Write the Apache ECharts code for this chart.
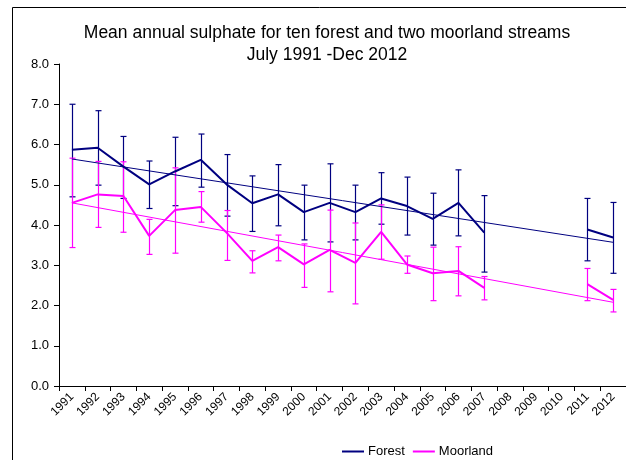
<!DOCTYPE html>
<html>
<head>
<meta charset="utf-8">
<script src="https://cdn.jsdelivr.net/npm/echarts@6/dist/echarts.min.js"></script>
<style>
  html, body { margin: 0; padding: 0; background: #fff; }
  #chart { width: 626px; height: 460px; }
</style>
</head>
<body>
<div id="chart"></div>
<script>
const years = ['1991', '1992', '1993', '1994', '1995', '1996', '1997', '1998', '1999', '2000', '2001',
  '2002', '2003', '2004', '2005', '2006', '2007', '2008', '2009', '2010', '2011', '2012'];

const forestMean = [5.87, 5.92, 5.45, 5.01, 5.33, 5.62, 5.01, 4.54, 4.76, 4.32, 4.55,
  4.32, 4.66, 4.47, 4.15, 4.55, 3.81, null, null, null, 3.89, 3.69];
const forestHigh = [7.00, 6.84, 6.20, 5.59, 6.18, 6.26, 5.75, 5.22, 5.50, 4.99, 5.52,
  4.99, 5.30, 5.19, 4.79, 5.37, 4.73, null, null, null, 4.66, 4.56];
const forestLow = [4.70, 4.99, 4.66, 4.41, 4.48, 4.94, 4.22, 3.84, 3.98, 3.63, 3.58,
  3.63, 4.02, 3.75, 3.50, 3.73, 2.83, null, null, null, 3.11, 2.80];

const moorMean = [4.55, 4.76, 4.72, 3.73, 4.37, 4.45, 3.81, 3.11, 3.45, 3.02, 3.38,
  3.06, 3.83, 3.02, 2.80, 2.86, 2.44, null, null, null, 2.53, 2.14];
const moorHigh = [5.66, 5.58, 5.57, 4.14, 5.42, 4.83, 4.36, 3.36, 3.75, 3.53, 4.37,
  4.05, 4.50, 3.23, 3.45, 3.46, 2.72, null, null, null, 2.92, 2.40];
const moorLow = [3.44, 3.94, 3.82, 3.27, 3.30, 4.07, 3.12, 2.81, 3.11, 2.45, 2.34,
  2.04, 3.15, 2.80, 2.12, 2.24, 2.14, null, null, null, 2.12, 1.84];

// trend line end points (first and last year)
const trendYears = ['1991', '2012'];
const forestTrend = [5.64, 3.57];
const moorTrend = [4.55, 2.08];

const yTicks = [0, 1, 2, 3, 4, 5, 6, 7, 8];

const FOREST = '#000080';
const MOOR = '#ff00ff';

const errData = (low, high) => years
  .map((y, i) => [i, low[i], high[i]])
  .filter(d => d[1] != null);

const errorBars = (color) => (params, api) => {
  const lo = api.coord([api.value(0), api.value(1)]);
  const hi = api.coord([api.value(0), api.value(2)]);
  const x = Math.round(lo[0]) + 0.5;
  const cap = 3;
  const style = { stroke: color, lineWidth: 1.2, fill: null };
  return {
    type: 'group',
    children: [
      { type: 'line', shape: { x1: x, y1: hi[1], x2: x, y2: lo[1] }, style },
      { type: 'line', shape: { x1: x - cap, y1: hi[1], x2: x + cap, y2: hi[1] }, style },
      { type: 'line', shape: { x1: x - cap, y1: lo[1], x2: x + cap, y2: lo[1] }, style }
    ]
  };
};

const chart = echarts.init(document.getElementById('chart'));

const option = {
  animation: false,
  textStyle: { fontFamily: 'Liberation Sans, Arial, sans-serif', color: '#000' },
  title: {
    text: 'Mean annual sulphate for ten forest and two moorland streams\nJuly 1991 -Dec 2012',
    left: 322,
    textAlign: 'center',
    top: 17,
    textStyle: { fontSize: 17.5, fontWeight: 'normal', color: '#000', lineHeight: 22,
      fontFamily: 'Liberation Sans, Arial, sans-serif' }
  },
  graphic: [{
    type: 'rect',
    shape: { x: 12.5, y: 7.5, width: 700, height: 500 },
    style: { stroke: '#000', fill: null, lineWidth: 1 },
    silent: true
  }],
  legend: {
    top: 440,
    left: 337,
    data: ['Forest', 'Moorland'],
    icon: 'rect',
    itemWidth: 22,
    itemHeight: 2,
    itemGap: 8,
    textStyle: { fontSize: 13, color: '#000', padding: [0, 0, 0, -1] }
  },
  grid: { left: 59, top: 64, bottom: 74, width: 572, containLabel: false },
  xAxis: {
    type: 'category',
    data: years,
    boundaryGap: true,
    axisLine: { lineStyle: { color: '#000', width: 1 } },
    axisTick: { show: true, length: 5, lineStyle: { color: '#000' } },
    axisLabel: { rotate: 45, fontSize: 12, color: '#000', margin: 9, interval: 0 },
    splitLine: { show: false }
  },
  yAxis: {
    type: 'value',
    min: yTicks[0],
    max: yTicks[yTicks.length - 1],
    interval: 1,
    axisLine: { show: true, lineStyle: { color: '#000', width: 1 } },
    axisTick: { show: true, length: 5, lineStyle: { color: '#000' } },
    axisLabel: { fontSize: 13, color: '#000', margin: 10, formatter: v => v.toFixed(1) },
    splitLine: { show: false }
  },
  series: [
    {
      name: 'Forest err',
      type: 'custom',
      renderItem: errorBars(FOREST),
      data: errData(forestLow, forestHigh),
      encode: { x: 0, y: [1, 2] },
      z: 2
    },
    {
      name: 'Moorland err',
      type: 'custom',
      renderItem: errorBars(MOOR),
      data: errData(moorLow, moorHigh),
      encode: { x: 0, y: [1, 2] },
      z: 2
    },
    {
      name: 'Forest trend',
      type: 'line',
      data: trendYears.map((y, i) => [y, forestTrend[i]]),
      showSymbol: false,
      lineStyle: { color: FOREST, width: 1 },
      itemStyle: { color: FOREST },
      z: 3
    },
    {
      name: 'Moorland trend',
      type: 'line',
      data: trendYears.map((y, i) => [y, moorTrend[i]]),
      showSymbol: false,
      lineStyle: { color: MOOR, width: 1 },
      itemStyle: { color: MOOR },
      z: 3
    },
    {
      name: 'Moorland',
      type: 'line',
      data: moorMean,
      showSymbol: false,
      connectNulls: false,
      lineStyle: { color: MOOR, width: 2 },
      itemStyle: { color: MOOR },
      z: 4
    },
    {
      name: 'Forest',
      type: 'line',
      data: forestMean,
      showSymbol: false,
      connectNulls: false,
      lineStyle: { color: FOREST, width: 2 },
      itemStyle: { color: FOREST },
      z: 5
    }
  ]
};

chart.setOption(option);
</script>
</body>
</html>
